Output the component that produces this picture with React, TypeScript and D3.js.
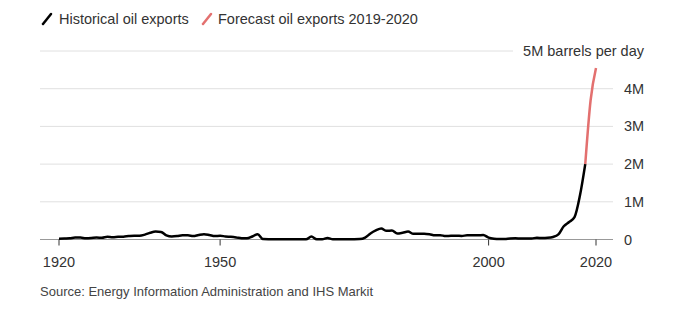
import React from "react";
import * as d3 from "d3";

const histYears: number[] = [
  1920, 1921, 1922, 1923, 1924, 1925, 1926, 1927, 1928, 1929,
  1930, 1931, 1932, 1933, 1934, 1935, 1936, 1937, 1938, 1939,
  1940, 1941, 1942, 1943, 1944, 1945, 1946, 1947, 1948, 1949,
  1950, 1951, 1952, 1953, 1954, 1955, 1956, 1957, 1958, 1959,
  1960, 1961, 1962, 1963, 1964, 1965, 1966, 1967, 1968, 1969,
  1970, 1971, 1972, 1973, 1974, 1975, 1976, 1977, 1978, 1979,
  1980, 1981, 1982, 1983, 1984, 1985, 1986, 1987, 1988, 1989,
  1990, 1991, 1992, 1993, 1994, 1995, 1996, 1997, 1998, 1999,
  2000, 2001, 2002, 2003, 2004, 2005, 2006, 2007, 2008, 2009,
  2010, 2011, 2012, 2013, 2014, 2015, 2016, 2017, 2018,
];
const histValues: number[] = [
  0.02, 0.025, 0.03, 0.05, 0.05, 0.035, 0.04, 0.05, 0.045, 0.07,
  0.06, 0.07, 0.075, 0.09, 0.1, 0.1, 0.13, 0.18, 0.21, 0.2,
  0.11, 0.08, 0.09, 0.11, 0.11, 0.09, 0.12, 0.14, 0.12, 0.09,
  0.1, 0.08, 0.07, 0.055, 0.035, 0.03, 0.08, 0.14, 0.01, 0.007,
  0.008, 0.007, 0.005, 0.005, 0.004, 0.004, 0.004, 0.08, 0.005, 0.004,
  0.04, 0.005, 0.005, 0.005, 0.005, 0.006, 0.01, 0.05, 0.16, 0.24,
  0.29, 0.23, 0.24, 0.16, 0.18, 0.21, 0.15, 0.15, 0.155, 0.14,
  0.11, 0.115, 0.09, 0.1, 0.1, 0.095, 0.11, 0.11, 0.11, 0.12,
  0.05, 0.02, 0.01, 0.012, 0.027, 0.032, 0.025, 0.027, 0.029, 0.044,
  0.042, 0.047, 0.067, 0.134, 0.351, 0.465, 0.591, 1.158, 2.0,
];
const forecastYears: number[] = [2018, 2019, 2020];
const forecastValues: number[] = [2.0, 3.7, 4.55];

const xTicks: number[] = [1920, 1950, 2000, 2020];
const yTicks: number[] = [0, 1, 2, 3, 4, 5];
const yTickLabels: string[] = ["0", "1M", "2M", "3M", "4M", "5M barrels per day"];

const legendLabels: string[] = ["Historical oil exports", "Forecast oil exports 2019-2020"];
const sourceText = "Source: Energy Information Administration and IHS Markit";

const HIST_COLOR = "#000000";
const FORECAST_COLOR = "#e3706f";
const FONT = "'Liberation Sans', Arial, Helvetica, sans-serif";

export default function App() {
  const W = 680;
  const H = 322;
  const x = d3.scaleLinear().domain([1920, 2020]).range([59, 596]);
  const y = d3.scaleLinear().domain([0, 5]).range([239.5, 51]);
  const plotLeft = 40;
  const plotRight = 613;

  const line = d3
    .line<[number, number]>()
    .x((d) => x(d[0]))
    .y((d) => y(d[1]))
    .curve(d3.curveMonotoneX);

  const hist: [number, number][] = histYears.map((yr, i) => [yr, histValues[i]]);
  const fc: [number, number][] = forecastYears.map((yr, i) => [yr, forecastValues[i]]);

  return (
    <svg
      width={W}
      height={H}
      style={{ position: "absolute", left: 0, top: 0, display: "block", background: "#fff" }}
      fontFamily={FONT}
    >
      <rect x={0} y={0} width={W} height={H} fill="#fff" />
      {/* legend */}
      <g>
        <line x1={43} y1={24} x2={51} y2={14} stroke={HIST_COLOR} strokeWidth={2.5} strokeLinecap="round" />
        <text x={59} y={24} fontSize={14.5} fill="#333">{legendLabels[0]}</text>
        <line x1={203} y1={24} x2={211} y2={14} stroke={FORECAST_COLOR} strokeWidth={2.5} strokeLinecap="round" />
        <text x={218} y={24} fontSize={14.5} fill="#333">{legendLabels[1]}</text>
      </g>
      {/* gridlines */}
      {yTicks.map((t) =>
        t === 0 ? null : (
          <line
            key={"g" + t}
            x1={plotLeft}
            x2={t === 5 ? 513 : plotRight}
            y1={y(t)}
            y2={y(t)}
            stroke="#e0e0e0"
            strokeWidth={1}
          />
        )
      )}
      {/* y labels */}
      {yTicks.map((t, i) => (
        <text
          key={"yl" + t}
          x={t === 5 ? 644 : 624}
          y={y(t)}
          dy="0.35em"
          fontSize={14.5}
          fill="#333"
          textAnchor={t === 5 ? "end" : "start"}
        >
          {yTickLabels[i]}
        </text>
      ))}
      {/* x axis */}
      <line x1={plotLeft} x2={plotRight} y1={y(0)} y2={y(0)} stroke="#999" strokeWidth={1.2} />
      {xTicks.map((t) => (
        <g key={"xt" + t}>
          <line x1={x(t)} x2={x(t)} y1={y(0)} y2={y(0) + 6} stroke="#333" strokeWidth={1} />
          <text x={x(t)} y={267} fontSize={14.5} fill="#333" textAnchor="middle">
            {t}
          </text>
        </g>
      ))}
      {/* lines */}
      <path d={line(fc) || ""} fill="none" stroke={FORECAST_COLOR} strokeWidth={2.5} strokeLinejoin="round" />
      <path d={line(hist) || ""} fill="none" stroke={HIST_COLOR} strokeWidth={2.5} strokeLinejoin="round" />
      {/* source */}
      <text x={40} y={296} fontSize={13} fill="#444">{sourceText}</text>
    </svg>
  );
}
